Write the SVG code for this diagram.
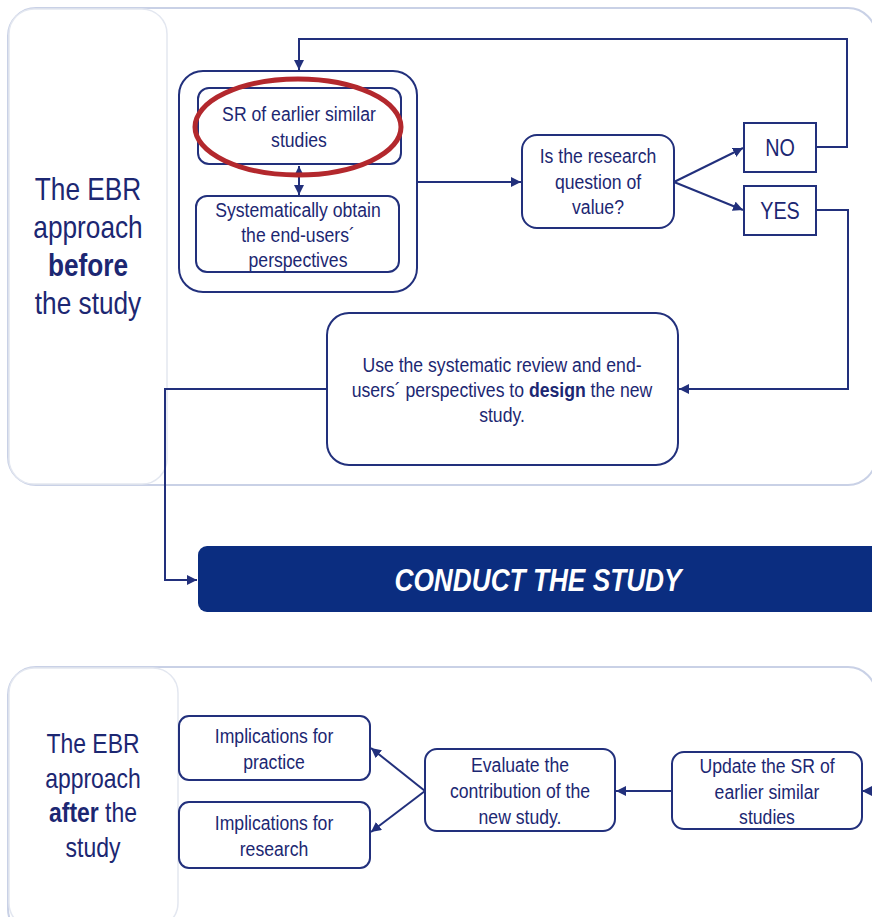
<svg xmlns="http://www.w3.org/2000/svg" width="872" height="917" viewBox="0 0 872 917">
<style>
.t{font-family:"Liberation Sans",Arial,sans-serif;fill:#1c2772;text-anchor:middle;font-size:21px}
.big{font-size:32px}
.mid{font-size:28px}
.b{font-weight:bold}
.box{fill:#fff;stroke:#22307c;stroke-width:2}
.panel{fill:#fff;stroke:#c9d1e6;stroke-width:2}
.lab{fill:#fff;stroke:#e3e7f0;stroke-width:1.5}
.ln{fill:none;stroke:#22307c;stroke-width:2}
</style>
<defs>
<marker id="ah" viewBox="0 0 10 10" refX="10" refY="5" markerWidth="5" markerHeight="5" orient="auto-start-reverse" markerUnits="strokeWidth">
<path d="M0,0 L10,5 L0,10 z" fill="#22307c"/>
</marker>
</defs>
<rect width="872" height="917" fill="#fff"/>
<g id="panel-before">
<rect class="panel" x="8" y="8" width="868" height="477" rx="28"/>
<rect class="lab" x="9" y="9" width="158" height="475" rx="25"/>
<text class="t big" transform="translate(88 0) scale(0.82 1)"><tspan x="0" y="200">The EBR</tspan><tspan x="0" y="238">approach</tspan><tspan x="0" y="276" class="b">before</tspan><tspan x="0" y="314">the study</tspan></text>
</g>
<g id="panel-after">
<rect class="panel" x="8" y="667" width="868" height="270" rx="28"/>
<rect class="lab" x="9" y="668" width="169" height="260" rx="25"/>
<text class="t mid" transform="translate(93 0) scale(0.82 1)"><tspan x="0" y="753">The EBR</tspan><tspan x="0" y="788">approach</tspan><tspan x="0" y="822"><tspan class="b">after</tspan> the</tspan><tspan x="0" y="857">study</tspan></text>
</g>
<g id="group-box">
<rect class="box" x="179" y="71" width="238" height="221" rx="24"/>
</g>
<g id="connectors">
<line class="ln" x1="299" y1="166" x2="299" y2="195" marker-start="url(#ah)" marker-end="url(#ah)"/>
<line class="ln" x1="417" y1="182" x2="521" y2="182" marker-end="url(#ah)"/>
<line class="ln" x1="674" y1="182" x2="743" y2="148" marker-end="url(#ah)"/>
<line class="ln" x1="674" y1="182" x2="743" y2="210" marker-end="url(#ah)"/>
<polyline class="ln" points="816,147 847,147 847,39 299,39 299,70" marker-end="url(#ah)"/>
<polyline class="ln" points="816,210 848,210 848,389 679,389" marker-end="url(#ah)"/>
<polyline class="ln" points="327,389 165,389 165,580 197,580" marker-end="url(#ah)"/>
<line class="ln" x1="672" y1="791" x2="616" y2="791" marker-end="url(#ah)"/>
<line class="ln" x1="425" y1="791" x2="371" y2="748" marker-end="url(#ah)"/>
<line class="ln" x1="425" y1="791" x2="371" y2="832" marker-end="url(#ah)"/>
<line class="ln" x1="874" y1="791" x2="862" y2="791" marker-end="url(#ah)"/>
</g>
<g id="node-sr">
<rect class="box" x="198" y="88" width="203" height="76" rx="11"/>
<text class="t" transform="translate(299 0) scale(0.84 1)"><tspan x="0" y="121">SR of earlier similar</tspan><tspan x="0" y="147">studies</tspan></text>
</g>
<g id="node-endusers">
<rect class="box" x="196" y="196" width="203" height="76" rx="11"/>
<text class="t" transform="translate(298 0) scale(0.84 1)"><tspan x="0" y="217">Systematically obtain</tspan><tspan x="0" y="242">the end-users´</tspan><tspan x="0" y="267">perspectives</tspan></text>
</g>
<g id="node-question">
<rect class="box" x="522" y="135" width="152" height="93" rx="15"/>
<text class="t" transform="translate(598 0) scale(0.84 1)"><tspan x="0" y="163">Is the research</tspan><tspan x="0" y="189">question of</tspan><tspan x="0" y="214">value?</tspan></text>
</g>
<g id="node-no">
<rect class="box" x="744" y="123" width="72" height="49"/>
<text class="t" transform="translate(780 0) scale(0.86 1)" x="0" y="156" style="font-size:23px">NO</text>
</g>
<g id="node-yes">
<rect class="box" x="744" y="186" width="72" height="49"/>
<text class="t" transform="translate(780 0) scale(0.86 1)" x="0" y="219" style="font-size:23px">YES</text>
</g>
<g id="node-design">
<rect class="box" x="327" y="313" width="351" height="152" rx="22"/>
<text class="t" transform="translate(502 0) scale(0.84 1)"><tspan x="0" y="372">Use the systematic review and end-</tspan><tspan x="0" y="397">users´ perspectives to <tspan class="b">design</tspan> the new</tspan><tspan x="0" y="422">study.</tspan></text>
</g>
<g id="node-conduct">
<rect x="198" y="546" width="690" height="66" rx="9" fill="#0b2d80"/>
<text class="t big b" transform="translate(538 0) scale(0.82 1)" x="0" y="591" style="fill:#fff;font-style:italic">CONDUCT THE STUDY</text>
</g>
<g id="node-practice">
<rect class="box" x="179" y="716" width="191" height="64" rx="10"/>
<text class="t" transform="translate(274 0) scale(0.84 1)"><tspan x="0" y="743">Implications for</tspan><tspan x="0" y="769">practice</tspan></text>
</g>
<g id="node-research">
<rect class="box" x="179" y="802" width="191" height="66" rx="10"/>
<text class="t" transform="translate(274 0) scale(0.84 1)"><tspan x="0" y="830">Implications for</tspan><tspan x="0" y="856">research</tspan></text>
</g>
<g id="node-evaluate">
<rect class="box" x="425" y="749" width="190" height="82" rx="12"/>
<text class="t" transform="translate(520 0) scale(0.84 1)"><tspan x="0" y="772">Evaluate the</tspan><tspan x="0" y="798">contribution of the</tspan><tspan x="0" y="824">new study.</tspan></text>
</g>
<g id="node-update">
<rect class="box" x="672" y="752" width="190" height="77" rx="12"/>
<text class="t" transform="translate(767 0) scale(0.84 1)"><tspan x="0" y="773">Update the SR of</tspan><tspan x="0" y="799">earlier similar</tspan><tspan x="0" y="824">studies</tspan></text>
</g>
<g id="highlight">
<ellipse cx="298" cy="127" rx="103" ry="48" fill="none" stroke="#b3282d" stroke-width="5"/>
</g>
</svg>
